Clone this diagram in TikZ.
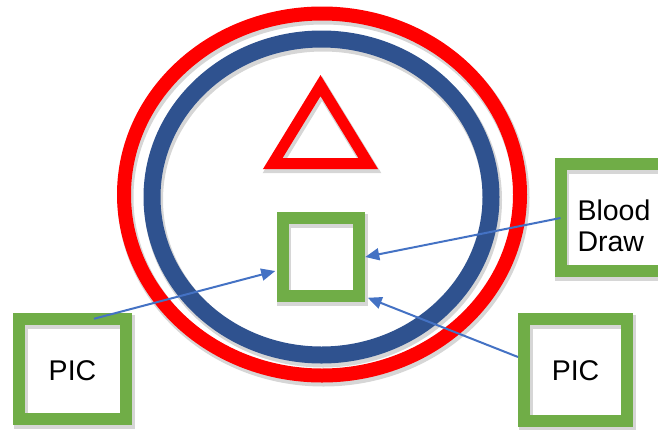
\documentclass[tikz,border=0pt]{standalone}
\usepackage{fontspec}
\setmainfont{Liberation Sans}
\usetikzlibrary{arrows.meta,calc}
\definecolor{cred}{RGB}{255,0,0}
\definecolor{cblue}{RGB}{47,82,143}
\definecolor{cgreen}{RGB}{112,173,71}
\definecolor{carrow}{RGB}{68,114,196}
\begin{document}
\begin{tikzpicture}[x=1pt,y=-1pt,
  shad/.style={preaction={draw=black,opacity=.16,line width=#1,transform canvas={shift={(1.5pt,-3pt)}}}},
  gbox/.style={draw=cgreen,line width=12pt,rectangle,inner sep=0pt,shad=14pt,
    font=\fontsize{28.5}{31}\selectfont,align=left},
  conn/.style={draw=carrow,line width=2pt,-{Triangle[length=14pt,width=12pt]}}]
\useasboundingbox (0,0) rectangle (658,429);
\clip (0,0) rectangle (658,429);
% rings
\draw[cred,line width=14pt,shad=16pt] (322,194.5) ellipse [x radius=198pt,y radius=181pt];
\draw[cblue,line width=17pt,shad=19pt] (321.5,197) ellipse [x radius=169.5pt,y radius=158pt];
% triangle
\draw[cred,line width=11pt,line join=miter,shad=13pt] (320.5,85.6) -- (368.2,163.5) -- (272.8,163.5) -- cycle;
% boxes
\node[gbox,minimum width=76.5pt,minimum height=77.5pt] (sq) at (321,257) {};
\node[gbox,minimum width=107pt,minimum height=100.5pt] (picL) at (72.5,369)
  {\makebox[0pt]{\raisebox{-11pt}[0pt][0pt]{PIC}}};
\node[gbox,minimum width=103pt,minimum height=102pt] (picR) at (575.5,370)
  {\makebox[0pt]{\raisebox{-10.5pt}[0pt][0pt]{PIC}}};
\node[gbox,minimum width=107pt,minimum height=107pt] (bd) at (614,217.5)
  {\makebox[0pt]{\raisebox{-2.5pt}[0pt][0pt]{\begin{tabular}[t]{@{}l@{}}Blood\\Draw\end{tabular}}}};
% connectors
\draw[conn] ($(picL.north)+(21.5,6)$) -- ($(sq.west)+(-1.5,14)$);
\draw[conn] ($(bd.west)+(6,0.5)$) -- (sq.east);
\draw[conn] ($(picR.west)+(0,-13)$) -- ($(sq.south east)+(2.5,-4)$);
\end{tikzpicture}
\end{document}
